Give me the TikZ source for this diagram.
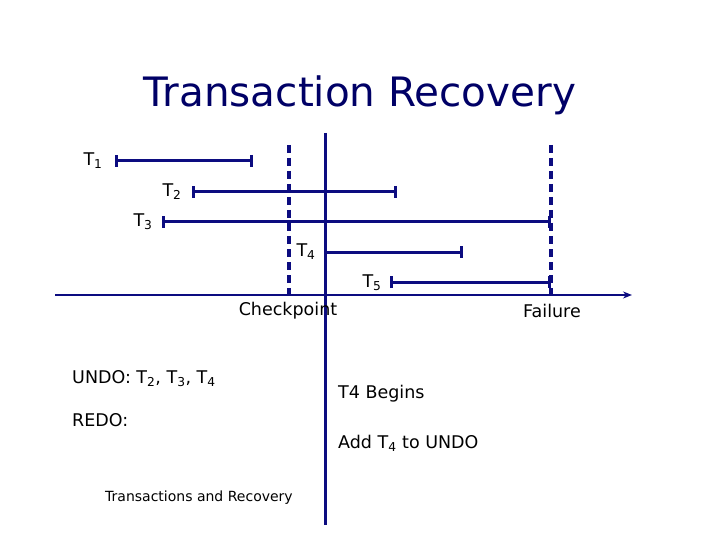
\documentclass[tikz,border=0pt]{standalone}
\usepackage{fontspec}
\setmainfont{DejaVu Sans}
\usetikzlibrary{arrows.meta}
\definecolor{navy}{HTML}{0C0C80}
\definecolor{ttl}{HTML}{000066}
\newcommand{\sbs}[1]{\textsubscript{#1}}
\begin{document}
\begin{tikzpicture}[x=1pt,y=-1pt,
  bar/.style={draw=navy,line width=3pt,{Bar[width=12pt]}-{Bar[width=12pt]}},
  lab/.style={inner sep=0pt,font=\fontsize{17.5}{20}\selectfont},
  dsh/.style={draw=navy,line width=3.5pt,dash pattern=on 8pt off 5pt}]
\useasboundingbox (0,0) rectangle (720,540);
\node[inner sep=0pt,text=ttl,font=\fontsize{40.5}{44}\selectfont] (title) at (360,95) {Transaction Recovery};
\coordinate (c1) at (289,145); \coordinate (c2) at (289,296);
\coordinate (f1) at (551,145); \coordinate (f2) at (551,296);
\coordinate (v1) at (325,133); \coordinate (v2) at (325,525);
\draw[dsh] (c1) -- (c2);
\draw[dsh] (f1) -- (f2);
\draw[navy,line width=3pt] (v1) -- (v2);
\coordinate (a1) at (55,295); \coordinate (a2) at (632,295);
\draw[navy,line width=2pt,-{Stealth[length=9pt,width=7pt]}] (a1) -- (a2);
\coordinate (t1a) at (115,161); \coordinate (t1b) at (253,161);
\coordinate (t2a) at (192,192); \coordinate (t2b) at (397,192);
\coordinate (t3a) at (162,222); \coordinate (t3b) at (551,222);
\coordinate (t4a) at (325,252); \coordinate (t4b) at (463,252);
\coordinate (t5a) at (390,282); \coordinate (t5b) at (551,282);
\draw[bar] (t1a) -- (t1b);
\draw[bar] (t2a) -- (t2b);
\draw[bar] (t3a) -- (t3b);
\draw[draw=navy,line width=3pt,-{Bar[width=12pt]}] (t4a) -- (t4b);
\draw[bar] (t5a) -- (t5b);
\node[lab] (l1) at (93,161) {T\sbs{1}};
\node[lab] (l2) at (172,192) {T\sbs{2}};
\node[lab] (l3) at (143,222) {T\sbs{3}};
\node[lab] (l4) at (306,252) {T\sbs{4}};
\node[lab] (l5) at (372,283) {T\sbs{5}};
\node[lab] (cp) at (288,311) {Checkpoint};
\node[lab] (fl) at (552,311) {Failure};
\node[lab,anchor=west] (undo) at (72,379) {UNDO: T\sbs{2}, T\sbs{3}, T\sbs{4}};
\node[lab,anchor=west] (redo) at (72,420) {REDO:};
\node[lab,anchor=west] (beg) at (338,394) {T4 Begins};
\node[lab,anchor=west] (add) at (338,443) {Add T\sbs{4} to UNDO};
\node[inner sep=0pt,anchor=west,font=\fontsize{14}{16}\selectfont] (ft) at (105,498) {Transactions and Recovery};
\end{tikzpicture}
\end{document}
